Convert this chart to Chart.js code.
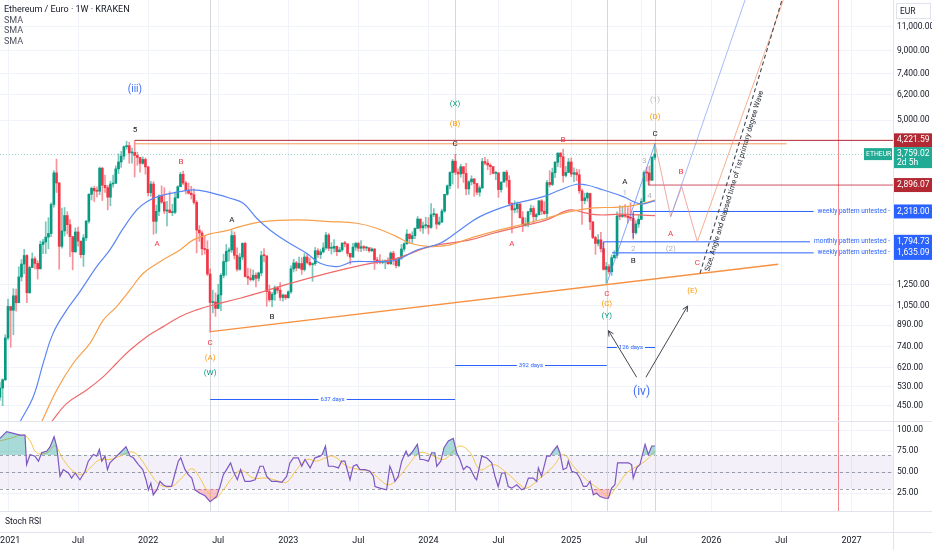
<!DOCTYPE html>
<html>
<head>
<meta charset="utf-8">
<script src="https://cdn.jsdelivr.net/npm/chart.js@4.4.1/dist/chart.umd.min.js"></script>
<style>
  html, body { margin: 0; padding: 0; background: #fff; }
  #wrap { position: relative; width: 932px; height: 550px; overflow: hidden; font-family: Roboto, "Open Sans", sans-serif; }
  #price { position: absolute; left: 0; top: 0; }
  #osc { position: absolute; left: 0; top: 422px; }
  .legend { position: absolute; left: 4px; top: 4px; font-size: 9px; color: #131722; line-height: 10.6px; }
  .legend span { color: #50535e; }
</style>
</head>
<body>
<div id="wrap">
  <canvas id="price" width="932" height="422"></canvas>
  <canvas id="osc" width="932" height="128"></canvas>
  <div class="legend">Ethereum / Euro · 1W · KRAKEN<br><span>SMA</span><br><span>SMA</span><br><span>SMA</span></div>
</div>
<script>
// --- weekly candles, ETH/EUR (week 0 = first week of 2021), open = previous close ---
const firstWeek = -3;
const firstOpen = 485;
const highs = [549,566,820,1107,1033,1209,1205,1455,1545,1686,1612,1462,1634,1580,1529,1807,1833,2125,2200,2492,
  3267,3605,2963,2387,2397,2314,2167,1875,2017,2034,1797,1907,2152,2695,2851,2868,2851,3373,3364,3149,
  2889,2991,3147,3405,3767,3845,4035,4190,4150,3956,4221.59,3823,3646,3673,3639,3392,2991,2982,2446,2667,
  2877,2832,2527,2739,2466,2727,2882,3225,3257,2991,2944,2868,2806,2538,2057,1963,1879,1811,1429,1194,
  1167,1255,1373,1618,1755,1706,1971,1950,1705,1628,1781,1790,1436,1429,1415,1381,1391,1658,1697,1585,
  1246,1173,1238,1232,1274,1155,1150,1187,1465,1548,1523,1578,1570,1626,1623,1566,1502,1712,1694,1687,
  1780,1945,1927,1782,1827,1734,1713,1777,1804,1758,1615,1771,1789,1791,1813,1739,1727,1700,1708,1697,
  1574,1611,1542,1542,1568,1651,1659,1517,1566,1755,1785,1991,1917,1954,2018,2222,2156,2118,2208,2201,
  2479,2376,2276,2213,2363,2679,2898,3244,3598,3752,3318,3454,3380,3477,3005,3131,3065,2912,2876,3631,
  3659,3593,3467,3393,3252,3222,2972,3229,3281,3134,2495,2536,2511,2489,2317,2198,2314,2448,2427,2283,
  2544,2565,2519,3014,3270,3340,3536,3801,3810,3923,3394,3623,3641,3350,3311,3298,2802,2705,2727,2708,
  2130,1881,1908,1944,1789,1509,1482,1605,1664,2311,2438,2427,2458,2395,2494,2278,2146,2247,2581,3262,
  3368,3397,3691,4120];
const lows = [471,451,557,787,738,820,1000,1074,1289,1372,1074,1160,1445,1429,1311,1429,1625,1625,1692,1875,
  2403,2720,1424,1700,1884,1917,1583,1417,1640,1730,1568,1458,1814,2102,2553,2519,2621,2669,2542,2723,
  2350,2431,2845,2931,3190,3362,3593,3913,3480,3484,3100,3420,3230,3451,3172,2643,2632,1912,1929,2237,
  2480,2274,2054,2290,2237,2273,2591,2883,2908,2685,2685,2575,2464,1635,1801,1607,1617,1349,838,986,
  957,1020,1005,1324,1353,1529,1639,1552,1400,1410,1542,1335,1251,1290,1290,1227,1289,1347,1515,1043,
  1085,1038,1095,1166,1094,1089,1103,1115,1161,1392,1404,1431,1364,1402,1491,1462,1286,1470,1574,1558,
  1633,1682,1664,1618,1645,1596,1648,1656,1720,1591,1486,1578,1670,1655,1652,1667,1664,1645,1653,1422,
  1491,1491,1490,1430,1484,1481,1479,1441,1453,1547,1654,1757,1771,1771,1844,2009,1963,1927,2009,1918,
  2009,2220,2000,2065,2110,2298,2657,2802,2922,3165,2820,3093,2963,2664,2676,2897,2636,2670,2636,2811,
  3429,3296,3159,3178,3028,2611,2725,2960,2848,2424,1936,2291,2296,2190,1955,2045,2036,2260,2100,2146,
  2249,2259,2260,2195,2853,2880,3081,3384,3362,2967,3100,3217,3107,2981,3005,2700,2077,2473,2526,1990,
  1843,1615,1733,1648,1413,1265,1368,1351,1560,1564,2161,2204,2203,2105,2147,1835,1914,2026,2162,2532,
  2991,2897,3004,3590];
const closes = [523,561,799,1041,1008,1139,1074,1335,1488,1599,1169,1445,1555,1496,1429,1756,1792,1867,1925,2458,
  3210,2947,1728,1967,2240,2074,1875,1650,1950,1806,1610,1856,2135,2678,2817,2757,2749,3339,2890,2834,
  2615,2922,2940,3319,3517,3698,4000,4035,3797,3813,3717,3655,3478,3593,3374,2714,2921,2133,2321,2640,
  2509,2327,2348,2297,2301,2600,2855,3171,2945,2769,2704,2670,2502,1981,1934,1692,1682,1368,1076,1081,
  1024,1147,1353,1520,1657,1676,1893,1602,1424,1578,1771,1340,1323,1306,1354,1320,1381,1598,1596,1179,
  1101,1154,1219,1194,1123,1146,1121,1178,1429,1502,1440,1495,1421,1579,1509,1481,1493,1665,1611,1650,
  1706,1900,1700,1700,1727,1651,1676,1777,1766,1628,1578,1716,1771,1700,1723,1703,1709,1664,1689,1541,
  1528,1509,1514,1514,1493,1632,1545,1469,1566,1689,1766,1916,1844,1890,2009,2176,2018,2055,2063,2027,
  2256,2266,2083,2120,2326,2679,2880,3217,3543,3229,3180,3380,3194,2804,2977,3047,2935,2726,2829,3530,
  3484,3426,3383,3196,3206,2787,2972,3229,3014,2479,2349,2373,2466,2199,2063,2090,2314,2377,2218,2256,
  2535,2324,2278,2958,2910,3215,3507,3791,3676,3139,3221,3517,3175,3214,3158,2760,2541,2599,2699,2124,
  1861,1771,1825,1694,1422,1455,1395,1570,1602,2231,2223,2249,2229,2202,2190,1939,2086,2170,2521,3219,
  3205,3017,3657,3759.02];
const opens = closes.map((c, i) => i === 0 ? firstOpen : closes[i - 1]);

// --- axes ---
const xTickWeeks = [0, 26, 52, 78, 104, 130, 156, 182, 209, 235, 261, 287, 313];
const xTickLabels = ['  2021', 'Jul', '2022', 'Jul', '2023', 'Jul', '2024', 'Jul', '2025', 'Jul', '2026', 'Jul', '2027'];
const priceTicks = [450, 530, 620, 740, 890, 1050, 1250, 5000, 6200, 7400, 9000, 11000];
const rsiTicks = [25, 50, 75, 100];

// --- moving averages: [week, price] ---
const smaBlue = [[4.5,394],[9.4,487],[13.1,647],[16.8,833],[21.8,1011],[26.7,1180],[32.9,1456],[37.8,1676],[42.8,2013],
  [47.8,2348],[51.5,2518],[56.4,2642],[63.8,2739],[68.8,2779],[73.7,2739],[82.4,2591],[87.3,2484],[92.3,2190],[97.2,1984],
  [103.4,1798],[110.8,1630],[115.8,1498],[122,1456],[128.1,1518],[135.5,1518],[144.2,1540],[151.7,1676],[160.3,1773],
  [167.7,1984],[175.1,2219],[186.3,2449],[198.6,2626],[204.8,2779],[211,2915],[214.7,2898],[220.9,2779],[228.3,2626],
  [234.5,2470],[240.1,2533]];
const smaOrange = [[12.5,394],[18.1,515],[24.2,645],[30.4,763],[35.4,929],[40.3,1039],[45.3,1197],[50.2,1377],[56.4,1518],
  [63.8,1676],[68.8,1824],[75,1918],[81.2,1972],[86.1,2040],[94.7,2128],[107.1,2159],[119.5,2128],[129.4,2099],[136.8,2013],
  [144.2,1875],[149.2,1773],[156.6,1723],[164,1748],[171.4,1850],[180.1,1956],[192.5,2099],[199.9,2190],[208.5,2315],
  [217.2,2389],[227.1,2403],[234.5,2464],[240.1,2554]];
const smaRed = [[16.2,394],[21.8,460],[29.2,515],[35.4,576],[40.3,645],[45.3,721],[51.5,807],[57.6,878],[63.8,955],[70,1011],
  [76.2,1054],[86.1,1115],[94.7,1180],[107.1,1283],[119.5,1384],[131.8,1477],[144.2,1562],[156.6,1723],[171.4,1824],
  [180.1,1929],[192.5,2069],[199.9,2159],[208.5,2348],[214.1,2289],[219.6,2251],[227.1,2266],[234.5,2251],[240.1,2238]];

// --- oscillator: [week, value] ---
const rsiLine = [[-3,90],[-0.5,98],[2,96],[4.5,94],[6.3,94],[6.9,59],[8.2,71],[10,69],[11.3,63],[12.5,73],[14.4,75],[15.6,80],
  [17.1,92],[18.1,80],[19.3,45],[20.5,53],[22.4,49],[23.6,43],[24.9,49],[26.7,41],[28.6,51],[29.8,63],[31.7,71],[32.9,69],
  [33.9,77],[34.8,63],[36,69],[36.9,53],[37.8,61],[39.7,67],[41.6,73],[43.8,80],[45.3,69],[46.5,67],[48.4,59],[50,53],
  [51.2,41],[52.1,29],[53,37],[53.9,23],[55.2,29],[56.4,39],[57.6,35],[58.9,33],[60.7,33],[62,49],[63.2,63],[64.1,67],
  [65.7,53],[66.9,47],[68.2,43],[69.4,29],[71.2,25],[73.1,22],[75,15],[76.2,18],[77.4,21],[78.7,33],[79.9,47],[81.1,53],
  [82.6,61],[83.6,51],[85.1,41],[86.3,53],[87.9,39],[89.8,39],[91.7,41],[93.5,57],[94.7,57],[96,45],[97.8,39],[99.7,39],
  [101.6,38],[103.4,45],[104.6,61],[105.9,67],[107.7,67],[109,57],[110.2,65],[112.1,55],[113.9,67],[115.8,69],[116.6,71],
  [117.8,81],[118.9,57],[120.7,57],[122.6,55],[123.8,63],[125,63],[126.9,41],[128.1,57],[129.4,59],[130.6,53],[132.5,53],
  [134.3,51],[135.6,45],[136.2,33],[138,31],[140.5,29],[141.7,57],[142.7,49],[143.6,39],[144.8,45],[146.1,63],[147.7,75],
  [148.5,69],[149.8,73],[151.9,83],[152.9,65],[154.1,65],[156,63],[157.2,73],[158.4,73],[159.1,57],[160.6,63],[161.8,79],
  [163.4,87],[165.2,90],[166.5,73],[167.7,65],[169,53],[170.2,57],[171.4,55],[173.3,43],[173.9,41],[175.8,69],[177.6,67],
  [179.5,61],[180.7,45],[181.9,33],[183.2,49],[184.4,49],[185.6,33],[186.9,31],[188.8,35],[190.6,29],[191.8,31],[193.1,43],
  [194.9,43],[196.2,39],[196.8,55],[198,45],[199.9,69],[201.1,69],[202.3,75],[203.8,81],[204.8,73],[206,53],[207.3,55],
  [207.9,63],[209.2,51],[211,49],[212.2,43],[213.5,33],[214.7,33],[216,39],[217.2,23],[218.4,25],[219.7,21],[221.5,19],
  [222.8,19],[224,31],[225.2,35],[226.2,61],[228.3,61],[230.2,61],[231.4,59],[232,43],[233.3,55],[234.5,59],[236.4,83],
  [237.6,71],[238.9,81],[240.1,81]];
const rsiMa = [[-3,87],[0.7,90],[5.7,94],[8.2,87],[10.6,73],[14.4,73],[17.4,81],[20.5,65],[24.2,51],[27.3,47],[30.4,55],
  [34.1,65],[37.8,65],[41.6,69],[45.9,74],[49,67],[52.7,49],[56.4,35],[60.7,33],[64.4,43],[68.2,54],[71.2,43],[73.7,29],
  [76.8,19],[79.9,29],[83.6,45],[86.7,52],[91,43],[96,43],[100.9,39],[103.4,38],[107.1,53],[110.8,65],[114.5,63],[117,66],
  [120.7,69],[125.7,57],[130.6,53],[134.3,51],[138.1,41],[141.1,35],[144.2,41],[149.2,61],[152.9,73],[157.9,69],[161.6,65],
  [164.7,73],[167.7,81],[171.5,73],[175.2,53],[180.1,59],[185.1,49],[190,35],[192.5,31],[197.4,43],[202.4,57],[206.1,71],
  [209.8,57],[214.7,41],[219.7,29],[222.8,22],[225.9,33],[229.6,49],[233.3,57],[236.4,63],[240.1,75]];

// --- drawings ---
const pivotWeeks = [75, 165.9, 222.2, 240.1];
const markerWeek = 308;
const lastPrice = 3759.02;
const waveLabels = [
  [47.1, 6455, '(iii)', '#3f6ff5', 10], [47.1, 4608, '5', '#131722', 8],
  [64.2, 3518, 'B', '#f23645', 8], [55.3, 1762, 'A', '#f23645', 8], [83.1, 2158, 'A', '#131722', 8],
  [75, 765, 'C', '#f23645', 8], [75, 674, '(A)', '#ff9800', 8], [75, 594, '(W)', '#089981', 8],
  [98, 952, 'B', '#131722', 8], [165.9, 5736, '(X)', '#089981', 8], [165.9, 4846, '(B)', '#ff9800', 8],
  [165.9, 4094, 'C', '#131722', 8], [205.9, 4235, 'B', '#f23645', 8], [187, 1762, 'A', '#f23645', 8],
  [222.2, 1154, 'C', '#f23645', 8], [222.2, 1060, '(C)', '#ff9800', 8], [222.2, 960, '(Y)', '#089981', 8],
  [240.1, 5932, '(1)', '#b2b5be', 8], [240.1, 5128, '(D)', '#ff9800', 8], [240.1, 4443, 'C', '#131722', 8],
  [236.1, 3557, '3', '#b2b5be', 8], [228.9, 2980, 'A', '#131722', 8], [228.9, 2716, '1', '#b2b5be', 8],
  [238, 2641, '4', '#b2b5be', 8], [232, 1685, '2', '#b2b5be', 8], [232, 1531, 'B', '#131722', 8],
  [249.7, 3226, 'B', '#f23645', 8], [245.9, 1918, 'A', '#f23645', 8], [245.9, 1685, '(2)', '#b2b5be', 8],
  [255.8, 1502, 'C', '#f23645', 8], [253.9, 1184, '(E)', '#ff9800', 8], [235.1, 508, '(iv)', '#3f6ff5', 12]
];
const dayRanges = [[75, 165.9, 476, '637 days'], [165.9, 222.2, 636, '392 days'], [222.2, 240.1, 738, '126 days']];
const blueLevels = [[232, 2318, 'weekly pattern untested -'], [220.9, 1794.73, 'monthly pattern untested -'], [224.1, 1635.09, 'weekly pattern untested -']];
const wavePaths = [
  [[[75.2, 842], [285.8, 1486]], '#f7903f', 1.4],
  [[[222.2, 1265], [240.1, 4110]], 'rgba(91,131,245,0.75)', 1],
  [[[240.1, 4110], [245.9, 2219], [250, 2857], [255.8, 1797]], 'rgba(236,140,128,0.75)', 1],
  [[[245.9, 2219], [273.5, 13780]], 'rgba(120,150,245,0.65)', 1],
  [[[255.8, 1797], [287.7, 13780]], 'rgba(245,150,110,0.75)', 1]
];
const arrows = [[[233.3, 573], [222.8, 849]], [[236.7, 573], [252.2, 1045]]];
const dashedGuide = [[256.8, 1377], [287.2, 13780]];

const xMin = -2.97, xMax = 328.4;
const FONT = 'Roboto, "Open Sans", sans-serif';
const UP = '#089981', DOWN = '#f23645';
const fmt = v => v.toLocaleString('en-US', { minimumFractionDigits: 2, maximumFractionDigits: 2 });

function line(ctx, x1, y1, x2, y2) { ctx.beginPath(); ctx.moveTo(x1, y1); ctx.lineTo(x2, y2); ctx.stroke(); }

// no label padding: the plot must fill the whole pane
function noPad(s) { s.paddingTop = 0; s.paddingBottom = 0; s.paddingLeft = 0; s.paddingRight = 0; }

function drawVerticals(chart) {
  const { ctx, chartArea: a, scales: { x } } = chart;
  ctx.save();
  ctx.lineWidth = 1;
  ctx.strokeStyle = '#d6d8de';
  pivotWeeks.forEach(w => { const px = Math.round(x.getPixelForValue(w)) + 0.5; line(ctx, px, a.top, px, a.bottom); });
  ctx.strokeStyle = 'rgba(242,54,69,0.6)';
  const mx = Math.round(x.getPixelForValue(markerWeek)) + 0.5;
  line(ctx, mx, a.top, mx, a.bottom);
  ctx.restore();
}

const priceOverlay = {
  id: 'priceOverlay',
  beforeDatasetsDraw(chart) {
    const { ctx, chartArea: a, scales: { y } } = chart;
    drawVerticals(chart);
    ctx.save();
    ctx.strokeStyle = 'rgba(38,166,154,0.45)';
    ctx.setLineDash([1, 2]);
    const py = Math.round(y.getPixelForValue(lastPrice)) + 0.5;
    line(ctx, a.left, py, a.right, py);
    ctx.restore();
  },
  afterDatasetsDraw(chart) {
    const { ctx, chartArea: a, scales: { x, y } } = chart;
    const P = (w, p) => [x.getPixelForValue(w), y.getPixelForValue(p)];
    ctx.save();
    ctx.beginPath(); ctx.rect(a.left, a.top, a.right - a.left, a.bottom - a.top); ctx.clip();

    // horizontal levels
    ctx.lineWidth = 1;
    ctx.strokeStyle = '#f59a57';
    let [x1, y1] = P(47.1, 4100); let [x2] = P(288.9, 4100);
    line(ctx, x1, y1, x2, y1);
    ctx.strokeStyle = '#b22833';
    [x1, y1] = P(47.1, 4221.59);
    line(ctx, x1, y1, a.right, y1);
    ctx.strokeStyle = 'rgba(194,40,60,0.8)';
    [x1, y1] = P(237.6, 2896.07); let [, yt] = P(237.6, 3226);
    line(ctx, x1, yt, x1, y1); line(ctx, x1, y1, a.right, y1);

    // blue untested levels
    ctx.font = '6.5px ' + FONT; ctx.textAlign = 'right'; ctx.textBaseline = 'middle';
    blueLevels.forEach(([w, p, txt]) => {
      const [lx, ly] = P(w, p);
      const tw = ctx.measureText(txt).width;
      ctx.strokeStyle = '#2962ff'; ctx.fillStyle = '#2962ff';
      line(ctx, lx, ly, a.right - 4 - tw - 3, ly);
      ctx.fillText(txt, a.right - 3, ly);
    });
    ctx.strokeStyle = '#2962ff';
    [x1, y1] = P(232, 2318); [, yt] = P(232, 1854); line(ctx, x1, y1, x1, yt);
    [x1, y1] = P(220.9, 1794.73); [, yt] = P(220.9, 1635.09); line(ctx, x1, y1, x1, yt);

    // wave paths
    wavePaths.forEach(([pts, color, lw]) => {
      ctx.strokeStyle = color; ctx.lineWidth = lw;
      ctx.beginPath();
      pts.forEach(([w, p], i) => { const [px, py] = P(w, p); i ? ctx.lineTo(px, py) : ctx.moveTo(px, py); });
      ctx.stroke();
    });

    // dashed guide with rotated caption
    const [d1x, d1y] = P(...dashedGuide[0]); const [d2x, d2y] = P(...dashedGuide[1]);
    ctx.strokeStyle = '#434651'; ctx.lineWidth = 1.1; ctx.setLineDash([4, 3]);
    line(ctx, d1x, d1y, d2x, d2y);
    ctx.setLineDash([]);
    const ang = Math.atan2(d2y - d1y, d2x - d1x);
    ctx.save();
    ctx.translate(d1x, d1y); ctx.rotate(ang);
    ctx.fillStyle = '#2a2e39'; ctx.font = '7.5px ' + FONT; ctx.textAlign = 'left'; ctx.textBaseline = 'middle';
    ctx.fillText('Size, Angle and elapsed time of 1st primary degree Wave', 4, 6.5);
    ctx.restore();

    // arrows
    ctx.strokeStyle = '#434651'; ctx.lineWidth = 1;
    arrows.forEach(([s, e]) => {
      const [sx, sy] = P(...s); const [ex, ey] = P(...e);
      line(ctx, sx, sy, ex, ey);
      const t = Math.atan2(ey - sy, ex - sx);
      [0.45, -0.45].forEach(o => line(ctx, ex, ey, ex - 6 * Math.cos(t + o), ey - 6 * Math.sin(t + o)));
    });

    // day ranges
    ctx.font = '6px ' + FONT; ctx.textAlign = 'center'; ctx.textBaseline = 'middle';
    dayRanges.forEach(([w1, w2, p, txt]) => {
      const [sx, sy] = P(w1, p); const [ex] = P(w2, p);
      const ly = Math.round(sy) + 0.5;
      const mid = (sx + ex) / 2; const tw = ctx.measureText(txt).width;
      ctx.strokeStyle = '#2962ff'; ctx.fillStyle = '#2962ff';
      line(ctx, sx, ly, mid - tw / 2 - 2, ly); line(ctx, mid + tw / 2 + 2, ly, ex, ly);
      ctx.fillText(txt, mid, ly);
    });

    // wave labels
    waveLabels.forEach(([w, p, txt, color, size]) => {
      const [px, py] = P(w, p);
      ctx.fillStyle = color; ctx.font = size + 'px ' + FONT;
      ctx.fillText(txt, px, py);
    });
    ctx.restore();
  },
  afterDraw(chart) {
    const { ctx, chartArea: a, scales: { y } } = chart;
    ctx.save();
    ctx.strokeStyle = '#e0e3eb'; ctx.lineWidth = 1;
    line(ctx, 0, 421.5, 932, 421.5);
    ctx.font = '8.5px ' + FONT; ctx.textBaseline = 'middle'; ctx.textAlign = 'left';
    const badge = (p, txt, bg, h, extra) => {
      const py = y.getPixelForValue(p);
      ctx.fillStyle = bg;
      ctx.fillRect(a.right + 1, py - 7, 38, extra ? 21 : h);
      ctx.fillStyle = '#fff';
      ctx.fillText(txt, a.right + 4, py);
      if (extra) ctx.fillText(extra, a.right + 4, py + 9);
    };
    badge(4221.59, fmt(4221.59), '#b22833', 14);
    badge(2896.07, fmt(2896.07), '#b22833', 14);
    badge(2318, fmt(2318), '#2962ff', 14);
    badge(1794.73, fmt(1794.73), '#2962ff', 14);
    badge(1635.09, fmt(1635.09), '#2962ff', 14);
    badge(lastPrice, fmt(lastPrice), '#22ab94', 14, '2d 5h');
    const ly = y.getPixelForValue(lastPrice);
    ctx.fillStyle = '#22ab94';
    ctx.fillRect(a.right - 29, ly - 6, 28, 12);
    ctx.fillStyle = '#fff'; ctx.font = '6.8px ' + FONT;
    ctx.fillText('ETHEUR', a.right - 27, ly);
    ctx.fillStyle = '#fff'; ctx.strokeStyle = '#e0e3eb';
    ctx.fillRect(a.right + 3, 3, 35, 16); ctx.strokeRect(a.right + 3.5, 3.5, 34, 15);
    ctx.fillStyle = '#131722'; ctx.font = '8.5px ' + FONT;
    ctx.fillText('EUR', a.right + 7, 11.5);
    ctx.restore();
  }
};

const oscOverlay = {
  id: 'oscOverlay',
  beforeDatasetsDraw(chart) {
    const { ctx, chartArea: a, scales: { y } } = chart;
    ctx.save();
    const y70 = y.getPixelForValue(70), y30 = y.getPixelForValue(30);
    ctx.fillStyle = 'rgba(126,87,194,0.09)';
    ctx.fillRect(a.left, y70, a.right - a.left, y30 - y70);
    ctx.strokeStyle = 'rgba(120,123,134,0.7)'; ctx.lineWidth = 1; ctx.setLineDash([3, 3]);
    [70, 50, 30].forEach(v => { const py = Math.round(y.getPixelForValue(v)) + 0.5; line(ctx, a.left, py, a.right, py); });
    ctx.restore();
    drawVerticals(chart);
  },
  afterDraw(chart) {
    const { ctx, chartArea: a } = chart;
    ctx.save();
    ctx.strokeStyle = '#e0e3eb'; ctx.lineWidth = 1;
    line(ctx, 0, a.bottom + 0.5, 932, a.bottom + 0.5);
    line(ctx, 0, a.bottom + 21.5, 932, a.bottom + 21.5);
    line(ctx, a.right + 0.5, a.bottom, a.right + 0.5, 128);
    ctx.fillStyle = '#131722'; ctx.font = '8.5px ' + FONT; ctx.textBaseline = 'middle';
    ctx.fillText('Stoch RSI', 5, a.bottom + 11);
    ctx.restore();
  }
};

const xScale = (labels) => ({
  type: 'linear', min: xMin, max: xMax, offset: false,
  afterBuildTicks: s => { s.ticks = xTickWeeks.map(v => ({ value: v })); },
  afterFit: s => { s.height = labels ? 39 : 0; noPad(s); },
  grid: { color: '#f0f3fa', drawTicks: false, offset: false },
  border: { display: false },
  ticks: labels
    ? { display: true, autoSkip: false, maxRotation: 0, padding: 24, color: '#131722', font: { size: 9, family: FONT }, callback: (v, i) => xTickLabels[i] }
    : { display: false }
});

const yTickCfg = { autoSkip: false, padding: 4, color: '#131722', font: { size: 8.5, family: FONT }, callback: v => fmt(v) };

const candleIdx = closes.map((c, i) => i);
const isUp = i => closes[i] >= opens[i];

new Chart(document.getElementById('price'), {
  type: 'bar',
  data: {
    datasets: [
      { type: 'line', data: smaBlue.map(([x, y]) => ({ x, y })), borderColor: '#5a86f5', borderWidth: 1.2, pointRadius: 0, tension: 0.4 },
      { type: 'line', data: smaOrange.map(([x, y]) => ({ x, y })), borderColor: '#f7a04b', borderWidth: 1.2, pointRadius: 0, tension: 0.4 },
      { type: 'line', data: smaRed.map(([x, y]) => ({ x, y })), borderColor: '#ef6a6a', borderWidth: 1.2, pointRadius: 0, tension: 0.4 },
      { data: candleIdx.map(i => ({ x: firstWeek + i, y: [opens[i], closes[i]] })),
        backgroundColor: candleIdx.map(i => isUp(i) ? UP : DOWN), barThickness: 2, minBarLength: 1, grouped: false, borderWidth: 0 },
      { data: candleIdx.map(i => ({ x: firstWeek + i, y: [lows[i], highs[i]] })),
        backgroundColor: candleIdx.map(i => isUp(i) ? 'rgba(8,153,129,0.55)' : 'rgba(242,54,69,0.55)'), barThickness: 1, grouped: false, borderWidth: 0 }
    ]
  },
  options: {
    responsive: false, animation: false, devicePixelRatio: 1,
    layout: { padding: 0 },
    plugins: { legend: { display: false }, tooltip: { enabled: false } },
    scales: {
      x: xScale(false),
      y: {
        type: 'logarithmic', position: 'right', min: 393, max: 13780,
        afterBuildTicks: s => { s.ticks = priceTicks.map(v => ({ value: v })); },
        afterFit: s => { s.width = 39; noPad(s); },
        grid: { color: '#f0f3fa', drawTicks: false },
        border: { color: '#e0e3eb' },
        ticks: yTickCfg
      }
    }
  },
  plugins: [priceOverlay]
});

new Chart(document.getElementById('osc'), {
  type: 'line',
  data: {
    datasets: [
      { data: rsiLine.map(([x, y]) => ({ x, y })), borderColor: '#7e57c2', borderWidth: 1.2, pointRadius: 0, tension: 0,
        fill: { target: { value: 70 }, above: 'rgba(38,166,154,0.4)', below: 'rgba(0,0,0,0)' } },
      { data: rsiMa.map(([x, y]) => ({ x, y })), borderColor: '#f7c548', borderWidth: 1, pointRadius: 0, tension: 0.4 },
      { data: rsiLine.map(([x, y]) => ({ x, y })), borderWidth: 0, pointRadius: 0, tension: 0,
        fill: { target: { value: 30 }, above: 'rgba(0,0,0,0)', below: 'rgba(242,54,69,0.3)' } }
    ]
  },
  options: {
    responsive: false, animation: false, devicePixelRatio: 1,
    layout: { padding: 0 },
    plugins: { legend: { display: false }, tooltip: { enabled: false } },
    scales: {
      x: xScale(true),
      y: {
        type: 'linear', position: 'right', min: 3.9, max: 109.5,
        afterBuildTicks: s => { s.ticks = rsiTicks.map(v => ({ value: v })); },
        afterFit: s => { s.width = 39; noPad(s); },
        grid: { color: '#f0f3fa', drawTicks: false },
        border: { color: '#e0e3eb' },
        ticks: yTickCfg
      }
    }
  },
  plugins: [oscOverlay]
});
</script>
</body>
</html>
